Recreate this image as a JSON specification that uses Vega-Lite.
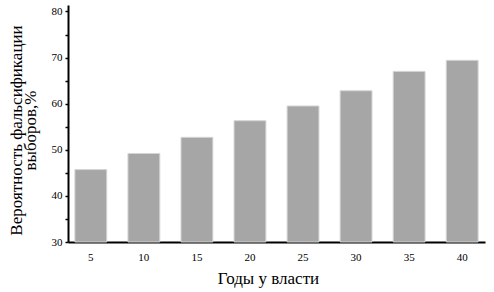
{
  "$schema": "https://vega.github.io/schema/vega-lite/v6.json",
  "width": 417,
  "height": 237,
  "autosize": "none",
  "padding": {"left": 68, "top": 5, "right": 9, "bottom": 50},
  "background": "white",
  "config": {"view": {"stroke": null}, "font": "Liberation Serif"},
  "data": {"values": [
    {"years": 5, "prob": 45.7},
    {"years": 10, "prob": 49.2},
    {"years": 15, "prob": 52.7},
    {"years": 20, "prob": 56.3},
    {"years": 25, "prob": 59.5},
    {"years": 30, "prob": 62.8},
    {"years": 35, "prob": 67.0},
    {"years": 40, "prob": 69.4}
  ]},
  "mark": {"type": "bar", "color": "#a6a6a6", "stroke": "#d4d4d4", "strokeWidth": 1},
  "encoding": {
    "x": {
      "field": "years", "type": "ordinal",
      "scale": {"paddingInner": 0.4, "paddingOuter": 0.13},
      "axis": {
        "title": "Годы у власти", "labelAngle": 0, "ticks": false,
        "domainColor": "black", "domainWidth": 2,
        "labelFont": "Liberation Serif", "labelFontSize": 11, "labelColor": "black", "labelPadding": 9,
        "titleFont": "Liberation Serif", "titleFontSize": 17, "titleFontWeight": "normal", "titleColor": "black",
        "titleX": 200, "titleY": 41, "titleBaseline": "alphabetic"
      }
    },
    "y": {
      "field": "prob", "type": "quantitative",
      "scale": {"domain": [30, 81.4], "nice": false, "zero": false},
      "axis": {
        "title": ["Вероятность фальсификации", "выборов,%"],
        "values": [30, 35, 40, 45, 50, 55, 60, 65, 70, 75, 80],
        "labelExpr": "datum.value % 10 == 0 ? datum.label : ''",
        "grid": false, "tickSize": 3, "tickColor": "black", "tickWidth": 1.5,
        "domainColor": "black", "domainWidth": 2,
        "labelFont": "Liberation Serif", "labelFontSize": 11, "labelColor": "black", "labelPadding": 3,
        "titleFont": "Liberation Serif", "titleFontSize": 17, "titleFontWeight": "normal", "titleColor": "black",
        "titleX": -43, "titleY": 125, "titleLineHeight": 14
      }
    },
    "y2": {"datum": 30}
  }
}
